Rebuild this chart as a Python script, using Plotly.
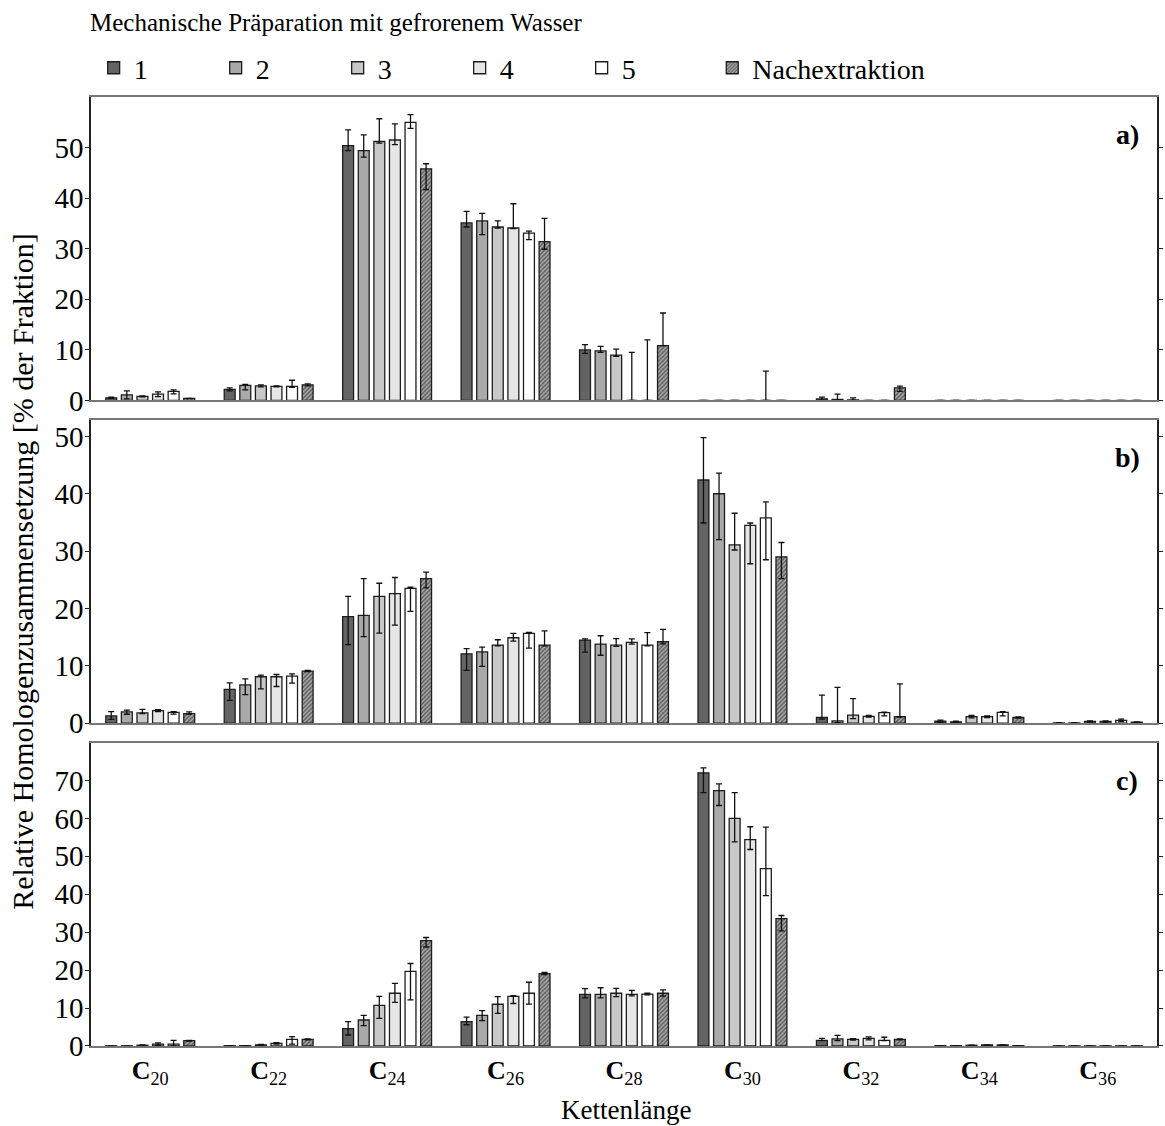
import plotly.graph_objects as go
from plotly.subplots import make_subplots

# ---------------- data ----------------
categories = ["C20", "C22", "C24", "C26", "C28", "C30", "C32", "C34", "C36"]
tick_text = ["<b>C</b><sub>" + c[1:] + "</sub>" for c in categories]
series_names = ["1", "2", "3", "4", "5", "Nachextraktion"]
legend_title = "Mechanische Präparation mit gefrorenem Wasser"
panel_labels = ["a)", "b)", "c)"]

# Panel a)
a_1 = [0.5, 2.2, 50.4, 35.1, 10.0, 0, 0.3, 0, 0]
a_1_plus = [0.15, 0.3, 3.1, 2.3, 1.05, 0, 0.35, 0, 0]
a_1_minus = [0.1, 0.3, 1.0, 0.8, 0.7, 0, 0.3, 0, 0]
a_2 = [1.1, 3.0, 49.4, 35.5, 9.8, 0, 0.2, 0, 0]
a_2_plus = [0.8, 0.2, 3.1, 1.5, 0.9, 0, 1.05, 0, 0]
a_2_minus = [0.8, 0.9, 1.3, 2.7, 0.3, 0, 0.2, 0, 0]
a_3 = [0.8, 2.9, 51.2, 34.3, 8.95, 0, 0.1, 0, 0]
a_3_plus = [0.1, 0.2, 4.5, 1.2, 1.2, 0, 0.4, 0, 0]
a_3_minus = [0.1, 0.2, 0.3, 0.2, 0.2, 0, 0.1, 0, 0]
a_4 = [1.25, 2.8, 51.5, 34.1, 0, 0, 0, 0, 0]
a_4_plus = [0.45, 0.1, 3.2, 4.8, 9.5, 0, 0, 0, 0]
a_4_minus = [0.5, 0.1, 0.9, 0.1, 0, 0, 0, 0, 0]
a_5 = [1.8, 2.8, 55.0, 33.1, 0, 0, 0, 0, 0]
a_5_plus = [0.3, 1.2, 1.5, 0.4, 12.0, 5.8, 0, 0, 0]
a_5_minus = [0.5, 0.2, 1.2, 1.3, 0, 0, 0, 0, 0]
a_N = [0.4, 3.1, 45.8, 31.4, 10.85, 0, 2.5, 0, 0]
a_N_plus = [0, 0.2, 1.0, 4.6, 6.45, 0, 0.35, 0, 0]
a_N_minus = [0, 0.2, 4.1, 1.5, 0, 0, 0.7, 0, 0]

# Panel b)
b_1 = [1.27, 5.9, 18.6, 12.1, 14.5, 42.4, 1.0, 0.35, 0.05]
b_1_plus = [0.75, 1.15, 3.5, 0.9, 0.2, 7.4, 3.9, 0.2, 0.05]
b_1_minus = [0.6, 1.9, 4.9, 2.9, 2.1, 7.5, 0.3, 0.2, 0.05]
b_2 = [1.97, 6.7, 18.8, 12.45, 13.8, 40.0, 0.4, 0.25, 0.05]
b_2_plus = [0.3, 1.05, 6.4, 0.8, 1.45, 3.6, 5.85, 0.1, 0.05]
b_2_minus = [0.4, 1.7, 3.7, 2.55, 1.95, 8.0, 0.3, 0.1, 0.05]
b_3 = [1.8, 8.1, 22.1, 13.6, 13.6, 31.1, 1.4, 1.15, 0.3]
b_3_plus = [0.6, 0.3, 2.3, 0.95, 1.15, 5.5, 2.9, 0.2, 0.1]
b_3_minus = [0.1, 2.1, 6.4, 0.1, 0.2, 0.9, 0.6, 0.2, 0.1]
b_4 = [2.2, 8.1, 22.6, 14.9, 14.1, 34.5, 1.2, 1.15, 0.3]
b_4_plus = [0.15, 0.4, 2.8, 0.75, 0.6, 0.4, 0.15, 0.15, 0.1]
b_4_minus = [0.15, 1.7, 5.5, 0.6, 0.3, 6.7, 0.15, 0.15, 0.1]
b_5 = [1.9, 8.2, 23.5, 15.65, 13.6, 35.8, 1.85, 1.9, 0.5]
b_5_plus = [0.1, 0.4, 0.2, 0.2, 2.2, 2.8, 0.1, 0.1, 0.2]
b_5_minus = [0.3, 1.2, 4.0, 2.55, 0.1, 7.3, 0.55, 0.6, 0.2]
b_N = [1.68, 9.1, 25.2, 13.6, 14.2, 29.0, 1.15, 1.0, 0.2]
b_N_plus = [0.3, 0.1, 1.15, 2.5, 2.15, 2.5, 5.7, 0.1, 0.05]
b_N_minus = [0.1, 0.1, 1.6, 0.1, 0.35, 3.8, 0.1, 0.1, 0.05]

# Panel c)
c_1 = [0.05, 0.1, 4.6, 6.4, 13.6, 72.0, 1.5, 0.1, 0.05]
c_1_plus = [0, 0, 1.8, 1.2, 1.5, 1.3, 0.5, 0, 0]
c_1_minus = [0, 0, 1.7, 0.8, 0.9, 5.2, 0.1, 0, 0]
c_2 = [0.05, 0.1, 6.85, 8.05, 13.6, 67.3, 1.9, 0.1, 0.05]
c_2_plus = [0, 0, 1.2, 1.3, 1.75, 1.8, 0.9, 0, 0]
c_2_minus = [0, 0, 1.5, 1.35, 0.9, 3.9, 0.5, 0, 0]
c_3 = [0.2, 0.3, 10.7, 11.0, 13.9, 60.0, 1.75, 0.2, 0.05]
c_3_plus = [0.1, 0.1, 2.4, 2.0, 1.3, 6.8, 0.2, 0, 0]
c_3_minus = [0.1, 0.1, 3.4, 2.4, 0.9, 6.2, 0.2, 0, 0]
c_4 = [0.5, 0.7, 13.9, 13.1, 13.6, 54.4, 2.0, 0.3, 0.05]
c_4_plus = [0.3, 0.2, 2.6, 0.2, 1.05, 3.4, 0.4, 0, 0]
c_4_minus = [0.3, 0.2, 2.4, 1.9, 0.4, 2.6, 0.4, 0, 0]
c_5 = [0.5, 1.75, 19.65, 13.9, 13.7, 46.75, 1.5, 0.3, 0.05]
c_5_plus = [1.0, 0.7, 2.1, 2.9, 0.2, 10.95, 0.8, 0, 0]
c_5_minus = [0.5, 1.25, 7.5, 2.85, 0.2, 7.1, 0.1, 0, 0]
c_N = [1.4, 1.75, 27.8, 19.1, 13.9, 33.6, 1.75, 0.1, 0.05]
c_N_plus = [0.1, 0.1, 0.8, 0.3, 0.9, 0.8, 0.1, 0, 0]
c_N_minus = [0.1, 0.1, 1.7, 0.3, 0.75, 3.25, 0.1, 0, 0]

y_ranges = [[0, 60], [0, 52.9], [0, 80]]
y_ticks = [[0, 10, 20, 30, 40, 50], [0, 10, 20, 30, 40, 50], [0, 10, 20, 30, 40, 50, 60, 70]]

panels = [
    [(a_1, a_1_plus, a_1_minus), (a_2, a_2_plus, a_2_minus), (a_3, a_3_plus, a_3_minus),
     (a_4, a_4_plus, a_4_minus), (a_5, a_5_plus, a_5_minus), (a_N, a_N_plus, a_N_minus)],
    [(b_1, b_1_plus, b_1_minus), (b_2, b_2_plus, b_2_minus), (b_3, b_3_plus, b_3_minus),
     (b_4, b_4_plus, b_4_minus), (b_5, b_5_plus, b_5_minus), (b_N, b_N_plus, b_N_minus)],
    [(c_1, c_1_plus, c_1_minus), (c_2, c_2_plus, c_2_minus), (c_3, c_3_plus, c_3_minus),
     (c_4, c_4_plus, c_4_minus), (c_5, c_5_plus, c_5_minus), (c_N, c_N_plus, c_N_minus)],
]

# ---------------- styling ----------------
FONT = "Liberation Serif, Times New Roman, serif"
fills = ["#646464", "#a9a9a9", "#c8c8c8", "#e6e6e6", "#ffffff", "#b0b0b0"]

fig = make_subplots(rows=3, cols=1, vertical_spacing=0.0203)

for r, panel in enumerate(panels, start=1):
    for i, (vals, plus, minus) in enumerate(panel):
        marker = dict(color=fills[i], line=dict(color="#1e1e1e", width=1.3))
        if i == 5:
            marker["pattern"] = dict(shape="/", fgcolor="#111111", bgcolor="#b0b0b0",
                                     size=3, solidity=0.55)
        fig.add_trace(go.Bar(
            x=categories, y=vals, name=series_names[i],
            marker=marker,
            error_y=dict(type="data", symmetric=False, array=plus, arrayminus=minus,
                         color="#111111", thickness=1.3, width=3),
            showlegend=(r == 1),
            legendgroup=series_names[i],
            legend=("legend2" if i == 5 else "legend"),
        ), row=r, col=1)

for r in range(1, 4):
    fig.update_yaxes(row=r, col=1, range=y_ranges[r - 1], tickvals=y_ticks[r - 1],
                     showline=True, linecolor="#222222", linewidth=1.5,
                     ticks="outside", ticklen=4, tickcolor="#222222", tickwidth=1.3,
                     mirror="ticks", showgrid=False, zeroline=False,
                     ticklabelstandoff=-4,
                     tickfont=dict(family=FONT, size=29, color="black"))
    fig.update_xaxes(row=r, col=1, type="category", categoryorder="array",
                     categoryarray=categories, range=[-0.5, 8.5],
                     showline=True, linecolor="#777777", linewidth=2, mirror=True,
                     ticks="", showgrid=False, zeroline=False,
                     showticklabels=(r == 3), tickvals=categories, ticktext=tick_text,
                     tickfont=dict(family=FONT, size=26, color="black"))

axis_ids = ["", "2", "3"]
for r in range(3):
    fig.add_annotation(text="<b>" + panel_labels[r] + "</b>",
                       xref="x" + axis_ids[r] + " domain", yref="y" + axis_ids[r] + " domain",
                       x=0.972, y=0.875, xanchor="center", yanchor="middle",
                       showarrow=False, font=dict(family=FONT, size=28, color="black"))

fig.add_annotation(text="Relative Homologenzusammensetzung [% der Fraktion]",
                   xref="paper", yref="paper", x=-0.0644, y=0.5, textangle=-90,
                   xanchor="center", yanchor="middle", showarrow=False,
                   font=dict(family=FONT, size=30, color="black"))
fig.add_annotation(text="Kettenlänge", xref="paper", yref="paper", x=0.502, y=-0.0675,
                   xanchor="center", yanchor="middle", showarrow=False,
                   font=dict(family=FONT, size=27, color="black"))
fig.add_annotation(text=legend_title, xref="paper", yref="paper", x=-0.003, y=1.079,
                   xanchor="left", yanchor="middle", showarrow=False,
                   font=dict(family=FONT, size=25, color="black"))

legend_common = dict(orientation="h", y=1.0305, xanchor="left", yanchor="middle",
                     font=dict(family=FONT, size=28, color="black"),
                     bgcolor="rgba(0,0,0,0)", traceorder="normal")

fig.update_layout(
    width=1165, height=1126,
    margin=dict(l=91, r=2, t=97, b=80),
    paper_bgcolor="white", plot_bgcolor="white",
    barmode="group", bargap=0.21, bargroupgap=0.3,
    font=dict(family=FONT, size=27, color="black"),
    legend=dict(x=0.0025, entrywidth=77, entrywidthmode="pixels", **legend_common),
    legend2=dict(x=0.5828, **legend_common),
)

fig.write_html("out.html")
